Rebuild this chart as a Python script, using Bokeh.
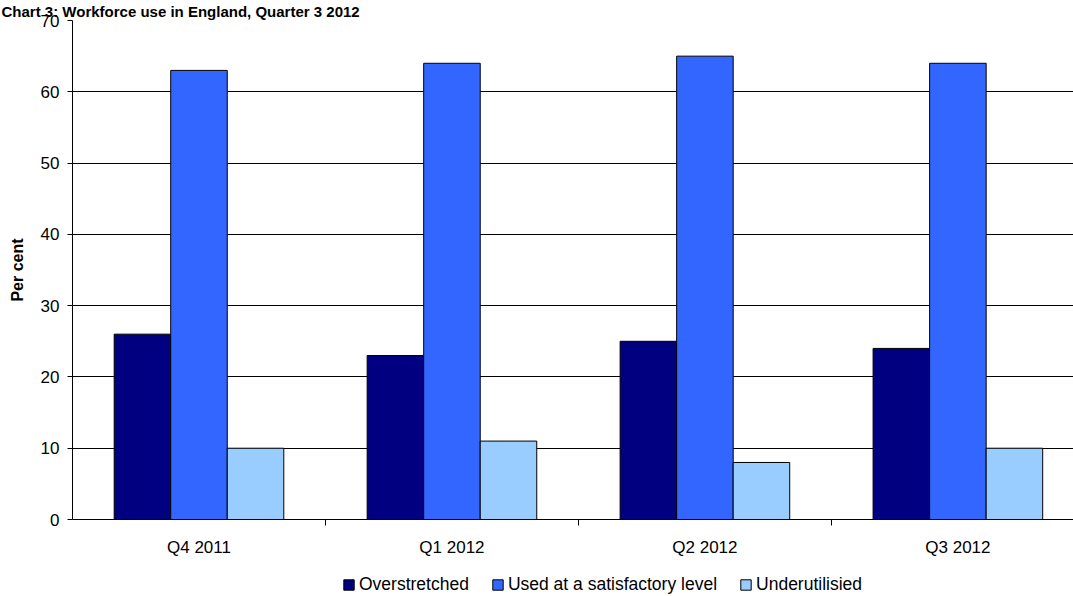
from bokeh.plotting import figure
from bokeh.layouts import column
from bokeh.models import (FixedTicker, Range1d, Legend, LegendItem, ColumnDataSource, Title)
from bokeh.embed import file_html
from bokeh.resources import INLINE

title = "Chart 3: Workforce use in England, Quarter 3 2012"
categories = ["Q4 2011", "Q1 2012", "Q2 2012", "Q3 2012"]
series_names = ["Overstretched", "Used at a satisfactory level", "Underutilisied"]
overstretched = [26, 23, 25, 24]
satisfactory = [63, 64, 65, 64]
underutilised = [10, 11, 8, 10]
colors = ["#000080", "#3366FF", "#99CCFF"]
y_ticks = [0, 10, 20, 30, 40, 50, 60, 70]

FONT = "Liberation Sans"

p = figure(width=1073, height=559, output_backend="svg", toolbar_location=None,
           x_range=Range1d(0, 3.957), y_range=Range1d(0, 70),
           min_border_left=72, min_border_right=0, min_border_top=0, min_border_bottom=0)
p.outline_line_color = None
p.background_fill_color = "white"
p.border_fill_color = "white"

p.title = Title(text=title, text_font=FONT, text_font_style="bold", text_font_size="15px",
                align="left", offset=-71, standoff=1, text_color="black")

# legend strip below the chart (its frame is aligned with the chart's frame);
# its x range lies away from the data so only the legend shows
lg = figure(width=1073, height=37, output_backend="svg", toolbar_location=None,
            x_range=Range1d(-20, -19), y_range=Range1d(0, 70),
            x_axis_type=None, y_axis_type=None,
            min_border_left=0, min_border_right=0, min_border_top=0, min_border_bottom=0)
lg.outline_line_color = None
lg.xgrid.grid_line_color = None
lg.ygrid.grid_line_color = None

bar_w = 0.2235
offsets = [-bar_w, 0, bar_w]
all_series = [overstretched, satisfactory, underutilised]
swatches = []
for i, (vals, c) in enumerate(zip(all_series, colors)):
    xs = [k + 0.5 + offsets[i] for k in range(len(categories))]
    src = ColumnDataSource(dict(x=xs, top=vals))
    p.vbar(x="x", top="top", bottom=0, width=bar_w, source=src,
           fill_color=c, line_color="black", line_width=1)
    swatches.append(lg.vbar(x="x", top="top", bottom=0, width=bar_w, source=src,
                            fill_color=c, line_color="black", line_width=1))

# x axis: labels at category centres, tick marks at category boundaries
p.xaxis.ticker = FixedTicker(ticks=[k + 0.5 for k in range(len(categories))],
                             minor_ticks=[1, 2, 3])
p.xaxis.major_label_overrides = {k + 0.5: c for k, c in enumerate(categories)}
p.xaxis.major_tick_line_color = None
p.xaxis.major_tick_out = 6
p.xaxis.minor_tick_in = 0
p.xaxis.minor_tick_out = 6
p.xaxis.minor_tick_line_color = "black"
p.xaxis.axis_line_color = "black"
p.xaxis.major_label_text_font = FONT
p.xaxis.major_label_text_font_size = "17px"
p.xaxis.major_label_text_color = "black"
p.xaxis.major_label_standoff = 12

p.yaxis.ticker = FixedTicker(ticks=y_ticks)
p.yaxis.minor_tick_line_color = None
p.yaxis.major_tick_in = 0
p.yaxis.major_tick_out = 5
p.yaxis.major_tick_line_color = "black"
p.yaxis.axis_line_color = "black"
p.yaxis.major_label_text_font = FONT
p.yaxis.major_label_text_font_size = "17px"
p.yaxis.major_label_text_color = "black"
p.yaxis.major_label_standoff = 8
p.yaxis.axis_label = "Per cent"
p.yaxis.axis_label_text_font = FONT
p.yaxis.axis_label_text_font_style = "bold"
p.yaxis.axis_label_text_font_size = "16px"
p.yaxis.axis_label_text_color = "black"
p.yaxis.axis_label_standoff = 12

p.xgrid.grid_line_color = None
p.ygrid.ticker = FixedTicker(ticks=y_ticks[1:])
p.ygrid.grid_line_color = "black"
p.ygrid.grid_line_width = 1

legend = Legend(items=[LegendItem(label=n, renderers=[r]) for n, r in zip(series_names, swatches)],
                orientation="horizontal", location=(270, 1),
                label_text_font=FONT, label_text_font_size="17.5px", label_text_color="black",
                glyph_width=13, glyph_height=13, label_standoff=4, spacing=22,
                border_line_color=None, background_fill_alpha=0,
                padding=0, margin=0)
lg.add_layout(legend)

open("out.html", "w").write(file_html(column(p, lg, spacing=0), INLINE))
